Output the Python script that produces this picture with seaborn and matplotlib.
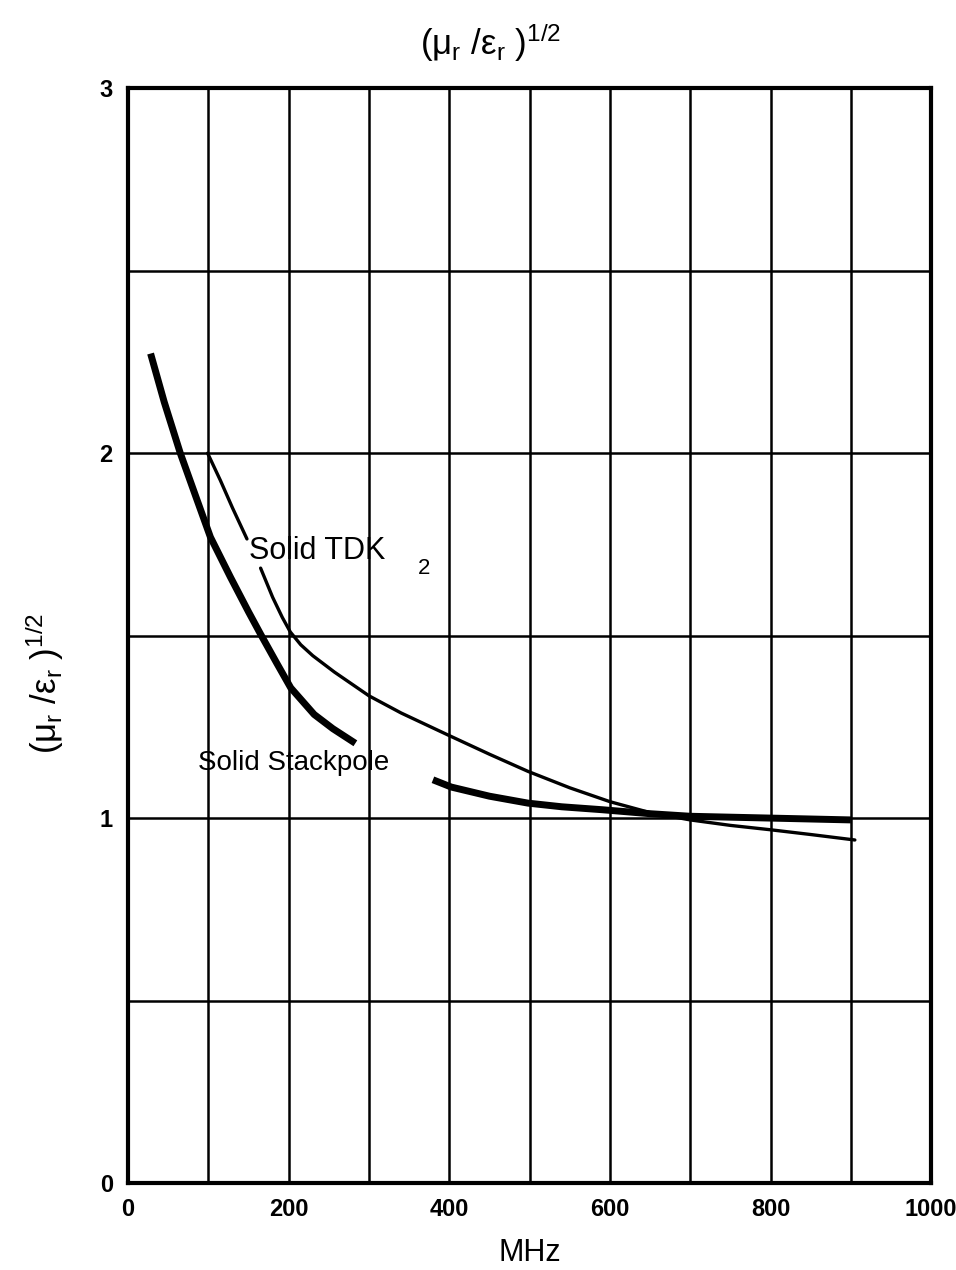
import numpy as np
import pandas as pd
import matplotlib
matplotlib.use("Agg")
import matplotlib.pyplot as plt
import seaborn as sns

# ---- data ----
stack_x1 = [28, 45, 65, 85, 102.5, 127.5, 150, 165, 185, 202.5, 231.7, 255, 283]
stack_y1 = [2.273, 2.14, 2.0, 1.877, 1.77, 1.66, 1.565, 1.504, 1.425, 1.357, 1.284, 1.245, 1.205]
stack_x2 = [379.6, 402.5, 450, 498, 540, 590, 650, 700, 800, 900]
stack_y2 = [1.105, 1.085, 1.06, 1.041, 1.031, 1.023, 1.012, 1.005, 1.0, 0.995]

tdk_x1 = [99, 115, 130, 148]
tdk_y1 = [2.0, 1.925, 1.85, 1.765]
tdk_x2 = [165, 180, 192, 202, 215, 230, 257, 300, 340, 400, 450, 498, 550, 600, 650,
          700, 750, 800, 850, 905]
tdk_y2 = [1.685, 1.605, 1.55, 1.51, 1.475, 1.445, 1.40, 1.335, 1.288, 1.226, 1.175, 1.128,
          1.083, 1.045, 1.015, 0.995, 0.98, 0.968, 0.955, 0.94]

x_ticks = [0, 200, 400, 600, 800, 1000]
y_ticks = [0, 1, 2, 3]

sns.set_style("white")
plt.rcParams['font.family'] = ['Liberation Sans', 'DejaVu Sans']
plt.rcParams['mathtext.fontset'] = 'custom'
plt.rcParams['mathtext.rm'] = 'Liberation Sans'
plt.rcParams['mathtext.it'] = 'Liberation Sans:italic'
plt.rcParams['mathtext.bf'] = 'Liberation Sans:bold'
plt.rcParams['text.color'] = 'black'
plt.rcParams['axes.labelcolor'] = 'black'
plt.rcParams['xtick.color'] = 'black'
plt.rcParams['ytick.color'] = 'black'

stack = pd.DataFrame({
    'x': stack_x1 + stack_x2,
    'y': stack_y1 + stack_y2,
    'seg': [0] * len(stack_x1) + [1] * len(stack_x2),
})
tdk = pd.DataFrame({
    'x': tdk_x1 + tdk_x2,
    'y': tdk_y1 + tdk_y2,
    'seg': [0] * len(tdk_x1) + [1] * len(tdk_x2),
})

fig = plt.figure(figsize=(9.56, 12.70), dpi=100)
ax = fig.add_axes([0.134, 0.0685, 0.840, 0.862])

sns.lineplot(data=stack, x='x', y='y', units='seg', estimator=None, sort=False,
             color='black', lw=5, ax=ax, solid_capstyle='butt', solid_joinstyle='round')
sns.lineplot(data=tdk, x='x', y='y', units='seg', estimator=None, sort=False,
             color='black', lw=2.4, ax=ax, solid_joinstyle='round')

ax.set_xlim(0, 1000)
ax.set_ylim(0, 3)
ax.set_xticks(x_ticks)
ax.set_xticks(np.arange(0, 1001, 100), minor=True)
ax.set_yticks(y_ticks)
ax.set_yticks(np.arange(0, 3.01, 0.5), minor=True)
ax.grid(True, which='both', color='black', lw=1.8)
ax.set_axisbelow(True)

for s in ax.spines.values():
    s.set_color('black')
    s.set_linewidth(3)
    s.set_visible(True)

ax.tick_params(axis='both', which='major', direction='out', length=8, width=2,
               labelsize=17, color='black', pad=3)
ax.tick_params(axis='both', which='minor', length=0)
for lab in ax.get_xticklabels() + ax.get_yticklabels():
    lab.set_fontweight('bold')
    lab.set_family(['Liberation Sans Narrow', 'Liberation Sans', 'DejaVu Sans'])

ax.set_xlabel('MHz', fontsize=22, labelpad=12)
ax.set_ylabel('')
math_lab = r'$(\mathrm{\mu_r\ /\epsilon_r\ )^{1/2}}$'
fig.text(0.513, 0.966, math_lab, fontsize=25, ha='center', va='center')
fig.text(0.047, 0.462, math_lab, fontsize=25, ha='center', va='center', rotation=90)

ax.text(150, 1.733, 'Solid TDK', fontsize=22, va='center', ha='left')
ax.text(361, 1.683, '2', fontsize=16, va='center', ha='left')
ax.text(87, 1.15, 'Solid Stackpole', fontsize=20, va='center', ha='left')

fig.savefig('out.png', dpi=100)
